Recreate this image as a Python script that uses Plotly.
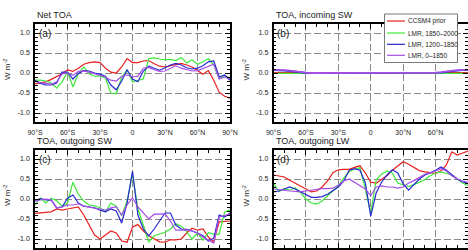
import plotly.graph_objects as go

W, H = 468, 250

lat = [-90, -85, -80, -75, -70, -65, -60, -55, -50, -45, -40, -35, -30, -25, -20, -15, -10, -5,
       0, 5, 10, 15, 20, 25, 30, 35, 40, 45, 50, 55, 60, 65, 70, 75, 80, 85, 90]

series_names = ["CCSM4 prior", "LMR, 1850\u20132000", "LMR, 1200\u20131850", "LMR, 0\u20131850"]
series_colors = ["#e8201e", "#3ee83a", "#2828d0", "#a64ee8"]

# (a) Net TOA
net_prior = [-0.27, -0.25, -0.22, -0.16, -0.09, -0.02, 0.08, 0.04, 0.12, 0.22, 0.26, 0.28, 0.26, 0.12, 0.02, 0.0, 0.15, 0.36,
             0.26, 0.26, 0.30, 0.31, 0.23, 0.17, 0.15, 0.18, 0.21, 0.24, 0.20, 0.15, 0.06, -0.03, 0.06, -0.18, -0.48, -0.58, -0.63]
net_1850 = [-0.18, -0.18, -0.20, -0.25, -0.38, -0.22, 0.03, -0.35, -0.02, 0.15, -0.02, -0.08, -0.08, -0.12, -0.50, -0.52, -0.10, 0.08,
            -0.22, -0.18, -0.15, 0.36, 0.38, 0.35, 0.33, 0.34, 0.31, 0.39, 0.25, 0.33, 0.22, 0.28, 0.36, 0.20, -0.14, -0.06, -0.12]
net_1200 = [-0.18, -0.26, -0.30, -0.30, -0.25, 0.02, 0.02, -0.15, -0.01, 0.06, 0.05, 0.0, -0.03, -0.08, -0.30, -0.42, -0.20, 0.08,
            -0.15, -0.22, 0.05, 0.17, 0.12, 0.07, 0.13, 0.20, 0.24, 0.20, 0.13, 0.10, 0.12, 0.18, 0.28, 0.30, -0.10, -0.05, -0.18]
net_0 = [-0.20, -0.24, -0.26, -0.28, -0.22, -0.02, 0.0, -0.06, 0.04, 0.05, 0.02, -0.02, -0.05, -0.10, -0.18, -0.20, -0.08, -0.05,
         -0.10, -0.08, 0.12, 0.14, 0.08, 0.04, 0.05, 0.12, 0.18, 0.12, 0.08, 0.05, 0.06, 0.12, 0.18, 0.22, -0.15, -0.10, -0.14]

# (b) TOA, incoming SW
insw_prior = [0.01, 0.01, 0.01, 0.01, 0.01, 0.01, 0.01, 0.01, 0.01, 0.01, 0.01, 0.01, 0.01, 0.01, 0.01, 0.01, 0.01, 0.01,
              0.01, 0.01, 0.01, 0.01, 0.01, 0.01, 0.01, 0.01, 0.01, 0.01, 0.01, 0.01, 0.01, 0.01, 0.01, 0.01, 0.01, 0.01, 0.01]
insw_1850 = [-0.01, -0.01, -0.01, -0.01, -0.01, -0.01, -0.01, -0.01, -0.01, -0.01, -0.01, -0.01, -0.01, -0.01, -0.01, -0.01, -0.01, -0.01,
             -0.01, -0.01, -0.01, -0.01, -0.01, -0.01, -0.01, -0.01, -0.01, -0.01, -0.01, -0.01, -0.01, -0.01, -0.01, -0.01, -0.01, -0.01, -0.01]
insw_1200 = [0.07, 0.07, 0.06, 0.05, 0.03, 0.01, 0.005, 0.0, 0.0, 0.0, 0.0, 0.0, 0.0, 0.0, 0.0, 0.0, 0.0, 0.0,
             0.0, 0.0, 0.0, 0.0, 0.0, 0.0, 0.0, 0.0, 0.0, 0.0, 0.0, 0.0, 0.0, 0.01, 0.03, 0.05, 0.06, 0.07, 0.07]
insw_0 = [0.08, 0.08, 0.07, 0.06, 0.04, 0.02, 0.01, 0.0, 0.0, 0.0, 0.0, 0.0, 0.0, 0.0, 0.0, 0.0, 0.0, 0.0,
          0.0, 0.0, 0.0, 0.0, 0.0, 0.0, 0.0, 0.0, 0.0, 0.0, 0.0, 0.0, 0.01, 0.02, 0.04, 0.06, 0.07, 0.08, 0.08]

# (c) TOA, outgoing SW
osw_prior = [-0.36, -0.35, -0.34, -0.32, -0.25, -0.28, -0.25, -0.23, -0.20, -0.40, -0.65, -0.90, -1.00, -0.90, -0.80, -0.85, -1.05, -1.08,
             -0.70, -0.64, -0.80, -0.92, -1.00, -1.07, -1.08, -1.02, -1.02, -1.00, -0.85, -0.73, -0.78, -0.75, -0.95, -1.07, -0.57, -0.56, -0.55]
osw_1850 = [-0.15, 0.02, -0.10, 0.02, -0.04, -0.18, -0.10, 0.42, 0.12, -0.05, -0.15, -0.17, -0.22, -0.32, -0.10, -0.18, -0.42, -0.05,
            0.62, -0.25, -0.65, -1.08, -0.92, -0.88, -0.83, -0.75, -0.62, -0.68, -0.82, -1.00, -0.85, -1.03, -0.84, -0.88, -0.88, -0.33, -0.27]
osw_1200 = [-0.05, 0.01, -0.02, -0.03, -0.22, -0.20, 0.02, 0.10, -0.10, -0.18, -0.20, -0.22, -0.28, -0.32, -0.25, -0.30, -0.60, -0.10,
            0.70, -0.40, -0.75, -0.92, -0.75, -0.55, -0.35, -0.35, -0.65, -0.75, -0.76, -0.80, -0.85, -0.92, -1.05, -0.98, -0.40, -0.45, -0.35]
osw_0 = [-0.05, -0.02, 0.0, -0.02, -0.22, -0.20, -0.15, -0.15, -0.12, -0.18, -0.20, -0.22, -0.25, -0.28, -0.22, -0.20, -0.40, -0.15,
         0.03, -0.20, -0.35, -0.50, -0.38, -0.37, -0.37, -0.55, -0.78, -0.78, -0.77, -0.80, -0.85, -0.95, -1.02, -1.10, -0.45, -0.42, -0.38]

# (d) TOA, outgoing LW
olw_prior = [0.60, 0.57, 0.55, 0.47, 0.39, 0.31, 0.25, 0.18, 0.20, 0.30, 0.45, 0.66, 0.73, 0.74, 0.74, 0.79, 0.83, 0.65,
             0.42, 0.40, 0.48, 0.58, 0.72, 0.82, 0.93, 0.87, 0.78, 0.71, 0.68, 0.66, 0.64, 0.70, 0.85, 1.18, 1.10, 1.15, 1.20]
olw_1850 = [0.39, 0.18, 0.26, 0.22, 0.28, 0.16, 0.0, -0.10, -0.13, -0.05, 0.08, 0.20, 0.33, 0.52, 0.68, 0.75, 0.78, 0.25,
            -0.35, 0.48, 0.62, 0.70, 0.65, 0.40, 0.35, 0.31, 0.36, 0.42, 0.48, 0.58, 0.65, 0.68, 0.64, 0.60, 0.50, 0.40, 0.33]
olw_1200 = [0.18, 0.20, 0.25, 0.30, 0.25, 0.18, 0.09, 0.04, 0.04, 0.06, 0.12, 0.20, 0.30, 0.45, 0.72, 0.76, 0.72, 0.40,
            -0.43, 0.15, 0.42, 0.60, 0.73, 0.65, 0.38, 0.22, 0.36, 0.50, 0.60, 0.65, 0.72, 0.80, 0.72, 0.60, 0.50, 0.43, 0.38]
olw_0 = [0.25, 0.23, 0.22, 0.20, 0.19, 0.18, 0.20, 0.22, 0.25, 0.26, 0.26, 0.27, 0.35, 0.45, 0.50, 0.42, 0.35, 0.25,
         0.08, 0.30, 0.33, 0.30, 0.30, 0.27, 0.30, 0.40, 0.46, 0.55, 0.62, 0.66, 0.70, 0.76, 0.70, 0.58, 0.50, 0.45, 0.42]

panel_titles = ["Net TOA", "TOA, incoming SW", "TOA, outgoing SW", "TOA, outgoing LW"]
panel_labels = ["(a)", "(b)", "(c)", "(d)"]
panel_data = [
    [net_prior, net_1850, net_1200, net_0],
    [insw_prior, insw_1850, insw_1200, insw_0],
    [osw_prior, osw_1850, osw_1200, osw_0],
    [olw_prior, olw_1850, olw_1200, olw_0],
]

x_tickvals = [-90, -60, -30, 0, 30, 60, 90]
x_ticktext = ["90\u00b0S", "60\u00b0S", "30\u00b0S", "0", "30\u00b0N", "60\u00b0N", "90\u00b0N"]
y_tickvals = [-1.0, -0.5, 0.0, 0.5, 1.0]
y_ticktext = ["-1.0", "-0.5", "0.0", "0.5", "1.0"]

# panel pixel boxes: (left, right, top, bottom)
boxes = [(35, 230, 24, 122), (273.5, 468, 24, 122), (35, 230, 150, 248), (273.5, 468, 150, 248)]
# the lower panels' latitude labels fall below the picture's edge in the reference
show_xlabels = [True, True, False, False]

FONT = "Liberation Sans, Arial, sans-serif"
fig = go.Figure()
layout = dict(width=W, height=H, margin=dict(l=0, r=0, t=0, b=0, autoexpand=False),
              paper_bgcolor="white", plot_bgcolor="white", showlegend=False,
              font=dict(family=FONT, size=7, color="#222"))

annotations = []
shapes = []
for i in range(4):
    L, R, T, B = boxes[i]
    xd = [L / W, min(R / W, 1.0)]
    yd = [1 - B / H, 1 - T / H]
    sfx = "" if i == 0 else str(i + 1)
    for k in range(4):
        fig.add_trace(go.Scatter(x=lat, y=panel_data[i][k], mode="lines",
                                 line=dict(color=series_colors[k], width=1.8 if i == 1 and k >= 2 else 1.2),
                                 name=series_names[k], xaxis="x" + sfx, yaxis="y" + sfx))
    common = dict(showline=True, linecolor="black", linewidth=1.5, mirror="ticks",
                  ticks="inside", ticklen=5, tickwidth=1, tickcolor="black",
                  showgrid=True, gridcolor="#8a8a8a", gridwidth=1.2, griddash="7px,3px",
                  zeroline=False, automargin=False,
                  tickfont=dict(family=FONT, size=7, color="#222"))
    layout["xaxis" + sfx] = dict(common, domain=xd, range=[-90, 90], anchor="y" + sfx,
                                 tickmode="array", tickvals=x_tickvals, ticktext=x_ticktext,
                                 ticklabelstandoff=3, showticklabels=show_xlabels[i],
                                 minor=dict(dtick=10, tick0=-90, ticks="inside", ticklen=3, tickcolor="black", showgrid=False))
    layout["yaxis" + sfx] = dict(common, domain=yd, range=[-1.225, 1.225], anchor="x" + sfx,
                                 tickmode="array", tickvals=y_tickvals, ticktext=y_ticktext,
                                 ticklabelstandoff=2,
                                 minor=dict(dtick=0.1, tick0=0, ticks="inside", ticklen=3, tickcolor="black", showgrid=False))
    # titles
    annotations.append(dict(text=panel_titles[i], x=L / W, y=1 - (T - 9) / H, xref="paper", yref="paper",
                            xanchor="left", yanchor="middle", showarrow=False,
                            font=dict(family=FONT, size=9, color="#222")))
    annotations.append(dict(text=panel_labels[i], x=(L + 1.5) / W, y=1 - (T + 9.5) / H, xref="paper", yref="paper",
                            xanchor="left", yanchor="middle", showarrow=False,
                            font=dict(family=FONT, size=10, color="#222")))
    annotations.append(dict(text="W m<sup>-2</sup>", x=(L - 28) / W, y=1 - (T + 46) / H, xref="paper", yref="paper",
                            xanchor="center", yanchor="middle", textangle=-90, showarrow=False,
                            font=dict(family=FONT, size=8, color="#222")))

# legend box drawn manually
lx0, lx1, ly0, ly1 = 384.5, 457.5, 14, 62.5
shapes.append(dict(type="rect", xref="paper", yref="paper", x0=lx0 / W, x1=lx1 / W, y0=1 - ly1 / H, y1=1 - ly0 / H,
                   fillcolor="white", line=dict(color="#555", width=0.8), layer="above"))
entry_y = [21, 33, 44.3, 55.3]
for k in range(4):
    shapes.append(dict(type="line", xref="paper", yref="paper", x0=387 / W, x1=405 / W,
                       y0=1 - entry_y[k] / H, y1=1 - entry_y[k] / H,
                       line=dict(color=series_colors[k], width=1.2), layer="above"))
    annotations.append(dict(text=series_names[k], x=405.5 / W, y=1 - entry_y[k] / H, xref="paper", yref="paper",
                            xanchor="left", yanchor="middle", showarrow=False,
                            font=dict(family=FONT, size=6.5, color="#222")))

layout["annotations"] = annotations
layout["shapes"] = shapes
fig.update_layout(**layout)
fig.write_html("out.html")
